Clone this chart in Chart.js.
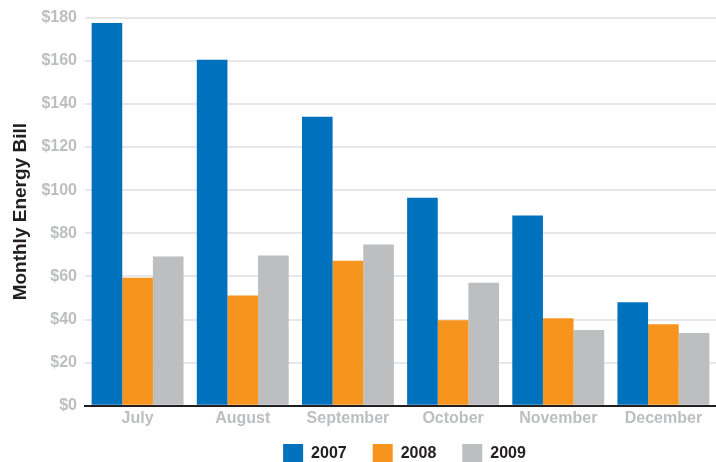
<!DOCTYPE html>
<html>
<head>
<meta charset="utf-8">
<script src="https://cdn.jsdelivr.net/npm/chart.js@4.4.1/dist/chart.umd.min.js"></script>
<style>
  html, body { margin: 0; padding: 0; background: #fff; overflow: hidden; }
  #wrap { width: 716px; height: 462px; }
</style>
</head>
<body>
<div id="wrap"><canvas id="myChart" width="716" height="462"></canvas></div>
<script>
'use strict';

// DATA
const months = ['July', 'August', 'September', 'October', 'November', 'December'];
const bill2007 = [177.5, 160.4, 134.0, 96.5, 88.2, 48.0];
const bill2008 = [59.4, 51.1, 67.3, 39.7, 40.6, 37.8];
const bill2009 = [69.2, 69.7, 74.8, 57.1, 35.1, 33.7];
const yTicks = [0, 20, 40, 60, 80, 100, 120, 140, 160, 180];

// COLORS
const blue = '#0071BC';
const orange = '#F7941D';
const grey = '#BCBEC0';
const tickGrey = '#BCBEC0';
const dark = '#231F20';

const font = 'Liberation Sans, Arial, Helvetica, sans-serif';

// legend sits closer to the axis than chart.js wants, and is centred on the plot
const legendTweak = {
  id: 'legendTweak',
  beforeLayout(chart) {
    const legend = chart.legend;
    if (legend && !legend._tweaked) {
      const fit = legend.fit;
      legend.fit = function () {
        fit.call(this);
        this.height = 31;
      };
      legend._tweaked = true;
    }
  },
  afterLayout(chart) {
    const legend = chart.legend;
    const area = chart.chartArea;
    const shift = (area.left + area.right) / 2 + 4 - (legend.left + legend.right) / 2;
    legend.left += shift;
    legend.right += shift;
    legend.top = 418;
    legend.bottom = 474;
  },
};

const ctx = document.getElementById('myChart').getContext('2d');

const chart = new Chart(ctx, {
  type: 'bar',
  data: {
    labels: months,
    datasets: [
      { label: '2007', backgroundColor: blue, data: bill2007 },
      { label: '2008', backgroundColor: orange, data: bill2008 },
      { label: '2009', backgroundColor: grey, data: bill2009 },
    ],
  },
  plugins: [legendTweak],
  options: {
    responsive: false,
    animation: false,
    layout: { padding: { top: 0, right: 0, bottom: 0, left: 0 } },
    datasets: {
      bar: { categoryPercentage: 0.874, barPercentage: 1.0, borderWidth: 0 },
    },
    plugins: {
      tooltip: { enabled: false },
      legend: {
        position: 'bottom',
        labels: {
          boxWidth: 20,
          boxHeight: 20,
          padding: 26,
          color: dark,
          font: { family: font, size: 16, weight: 'bold' },
        },
      },
    },
    scales: {
      x: {
        grid: { display: false, drawTicks: false },
        border: { display: true, color: dark, width: 2 },
        ticks: {
          color: tickGrey,
          padding: 3,
          font: { family: font, size: 16, weight: 'bold' },
        },
      },
      y: {
        min: 0,
        max: 180,
        afterBuildTicks: axis => {
          axis.ticks = yTicks.map(v => ({ value: v }));
        },
        afterFit: axis => {
          axis.width = 85;
        },
        border: { display: false },
        grid: {
          drawTicks: false,
          lineWidth: 2,
          color: c => (c.tick && c.tick.value === 0 ? dark : '#E6E7E8'),
        },
        ticks: {
          color: tickGrey,
          padding: 8,
          font: { family: font, size: 16, weight: 'bold' },
          callback: v => '$' + v,
        },
        title: {
          display: true,
          text: 'Monthly Energy Bill',
          color: dark,
          padding: { top: 9, bottom: 0 },
          font: { family: font, size: 19, weight: 'bold' },
        },
      },
    },
  },
});
</script>
</body>
</html>
